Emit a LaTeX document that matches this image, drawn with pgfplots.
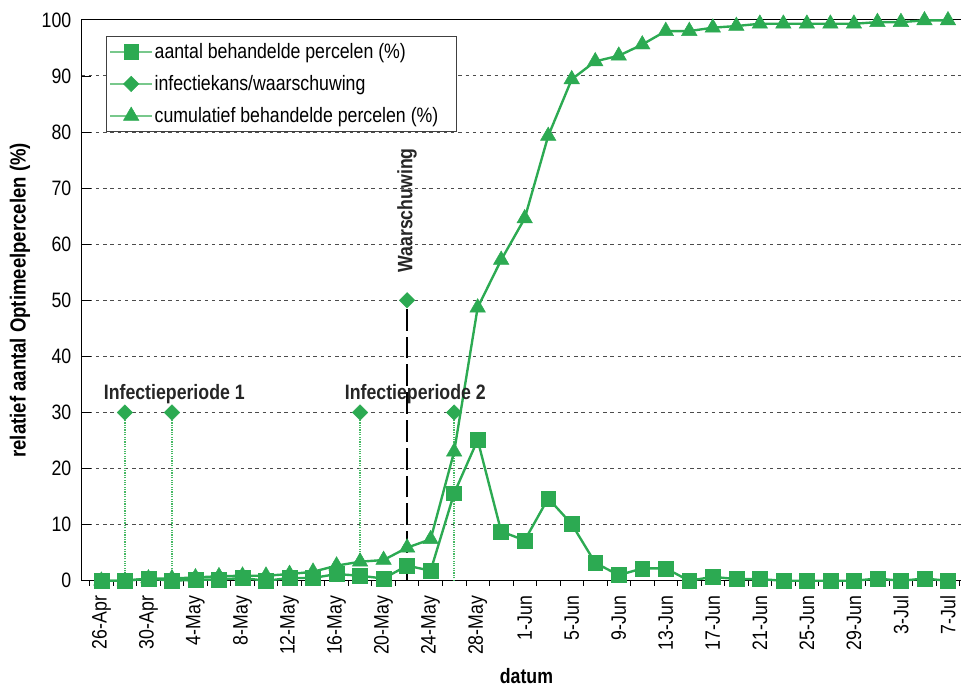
\documentclass[border=0pt]{standalone}
\usepackage{fontspec}
\setmainfont{Liberation Sans}[FakeStretch=0.85]
\usepackage{pgfplots}
\pgfplotsset{compat=1.18}
\definecolor{mygreen}{RGB}{44,170,82}
\definecolor{dotgreen}{RGB}{70,185,100}
\definecolor{legline}{RGB}{120,200,140}
\newcommand\cf{\fontsize{21}{25}\selectfont}

\pgfplotstableread{
d v
0 0
2 0
4 0.4
6 0
8 0.2
10 0.2
12 0.5
14 0
16 0.5
18 0.5
20 1.2
22 0.9
24 0.4
26 2.7
28 1.8
30 15.6
32 25.1
34 8.8
36 7.2
38 14.7
40 10.1
42 3.2
44 1.0
46 2.2
48 2.2
50 0
52 0.7
54 0.3
56 0.3
58 0
60 0
62 0
64 0
66 0.4
68 0
70 0.4
72 0
}\aantal

\pgfplotstableread{
d v
0 0
2 0
4 0.4
6 0.4
8 0.6
10 0.8
12 0.9
14 0.9
16 1.2
18 1.6
20 2.7
22 3.4
24 3.7
26 5.9
28 7.4
30 23.0
32 48.7
34 57.2
36 64.6
38 79.3
40 89.4
42 92.6
44 93.6
46 95.6
48 98.0
50 98.0
52 98.6
54 98.9
56 99.3
58 99.3
60 99.3
62 99.3
64 99.3
66 99.6
68 99.6
70 99.9
72 99.9
}\cumul

\begin{document}
\begin{tikzpicture}
\useasboundingbox (-82pt,-106pt) rectangle (886pt,585pt);
% odd-day tick marks along the x axis
\begin{axis}[
 scale only axis, width=893pt, height=565pt,
 xmin=-1.7, xmax=73.7, ymin=0, ymax=100,
 xtick={-1,1,...,73}, xticklabels={},
 tick align=outside, major tick length=5pt,
 xtick pos=bottom, ytick=\empty,
 axis line style={draw=none},
 xtick style={black, line width=0.8pt},
]
\end{axis}
\begin{axis}[
 scale only axis, width=893pt, height=565pt,
 xmin=-1.7, xmax=73.7, ymin=0, ymax=100,
 clip=false,
 axis line style={black, line width=1.3pt},
 xtick={0,4,...,72},
 xticklabels={26-Apr,30-Apr,4-May,8-May,12-May,16-May,20-May,24-May,28-May,1-Jun,5-Jun,9-Jun,13-Jun,17-Jun,21-Jun,25-Jun,29-Jun,3-Jul,7-Jul},
 xtick style={draw=none},
 xtick pos=bottom, ytick pos=left,
 xticklabel style={rotate=90, anchor=east, inner sep=0pt, font=\cf},
 xticklabel shift=15pt,
 ytick={0,10,...,100},
 major tick length=10pt,
 ytick style={black, line width=0.8pt},
 yticklabel style={font=\cf, inner sep=0pt, xshift=-10pt},
 /pgf/number format/assume math mode=true,
 ymajorgrids,
 major grid style={dash pattern=on 3.5pt off 3.8pt, black!70, line width=0.9pt},
 xlabel={\bfseries datum},
 xlabel style={at={(axis description cs:0.502,-0.1823)}, anchor=base, font=\cf},
 ylabel={\bfseries relatief aantal Optimeelpercelen (\%)},
 ylabel style={at={(axis description cs:-0.0694,0.5)}, anchor=center, font=\fontsize{22}{26}\selectfont},
 legend style={at={(axis description cs:0.028,0.9717)}, anchor=north west, draw=black!75, line width=1pt, font=\cf, inner xsep=3pt, inner ysep=5.5pt, row sep=11.5pt, cells={anchor=west}},
 legend image code/.code={\draw[draw=legline, line width=1.3pt] (0pt,0pt) -- (42pt,0pt); \draw[#1, draw=none] plot coordinates {(21pt,0pt)};},
]
\addplot[ycomb, dotgreen, line width=1.5pt, dash pattern=on 1.2pt off 1.2pt, forget plot] coordinates {(2,30)(6,30)(22,30)(30,30)};
\addplot[ycomb, black, line width=2pt, dash pattern=on 22pt off 6pt, forget plot] coordinates {(26,50)};

\addplot[mygreen, line width=2.4pt, mark=square*, mark size=7.5pt, mark options={solid, fill=mygreen, draw=mygreen, line width=0.5pt}] table[x=d,y=v] {\aantal};
\addlegendentry{aantal behandelde percelen (\%)}
\addplot[mygreen, only marks, mark=square*, mark size=5.5pt, mark options={rotate=45, fill=mygreen, draw=mygreen, line width=0.5pt}] coordinates {(2,30)(6,30)(22,30)(26,50)(30,30)};
\addlegendentry{infectiekans/waarschuwing}
\addplot[mygreen, line width=2.4pt, mark=triangle*, mark size=9pt, mark options={solid, fill=mygreen, draw=mygreen, line width=0.5pt}] table[x=d,y=v] {\cumul};
\addlegendentry{cumulatief behandelde percelen (\%)\hspace*{13pt}}

\node[font=\cf\bfseries, anchor=base, text=black!85] at (axis cs:6.2,32.4) {Infectieperiode 1};
\node[font=\cf\bfseries, anchor=base, text=black!85] at (axis cs:26.7,32.4) {Infectieperiode 2};
\node[font=\cf\bfseries, anchor=base west, rotate=90, inner sep=0pt, text=black!85] at (axis cs:26.45,54.9) {Waarschuwing};
\end{axis}
\end{tikzpicture}
\end{document}
